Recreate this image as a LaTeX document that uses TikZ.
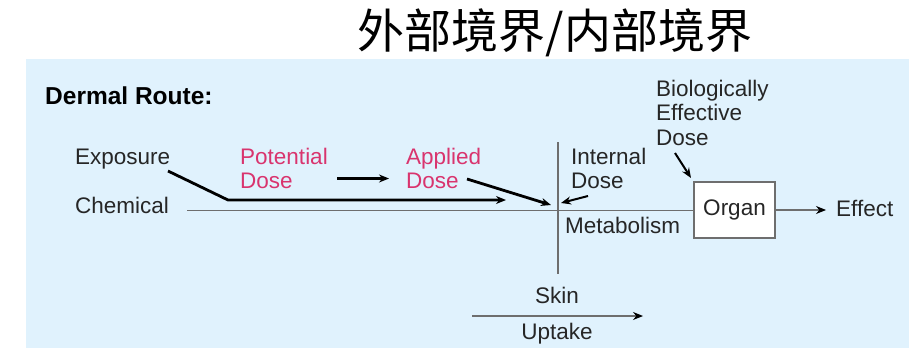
\documentclass[tikz,border=0pt]{standalone}
\usepackage{fontspec}
\setmainfont{Liberation Sans}
\newfontfamily\cjk{Noto Sans CJK SC}
\usetikzlibrary{arrows.meta}
\definecolor{panelblue}{HTML}{E0F2FD}
\definecolor{dosepink}{HTML}{D9346E}
\definecolor{linegray}{HTML}{6E6E6E}
\tikzset{
  lbl/.style={inner sep=0pt, anchor=base west, align=left, font=\fontsize{22.5}{24.5}\selectfont, text=black!85},
  pink/.style={lbl, text=dosepink},
  thick arrow/.style={line width=2.8pt, -{Stealth[length=10pt,width=8pt]}},
  thin arrow/.style={line width=1.2pt, linegray, -{Stealth[length=10pt,width=8pt,color=black]}},
}
\begin{document}
\begin{tikzpicture}[x=1pt,y=-1pt]
\useasboundingbox (0,0) rectangle (909,348);
\fill[panelblue] (26,59) rectangle (909,348);
\node[font=\cjk\fontsize{47}{52}\selectfont, inner sep=0pt] (title) at (555,33) {外部境界/内部境界};
\node[lbl, text=black, font=\bfseries\fontsize{24.5}{28}\selectfont] (route) at (45,104) {Dermal Route:};
\node[lbl] (exposure) at (75,164) {Exposure};
\node[lbl] (chemical) at (75,213) {Chemical};
\node[pink] (potential) at (240,188.5) {Potential\\Dose};
\node[pink] (applied) at (406,188.5) {Applied\\Dose};
\node[lbl] (internal) at (571,188.5) {Internal\\Dose};
\node[lbl] (bed) at (656,145) {Biologically\\Effective\\Dose};
\node[lbl] (metab) at (565,233) {Metabolism};
\node[draw=linegray, line width=1.2pt, fill=white, minimum width=81pt, minimum height=56pt, inner sep=0pt, font=\fontsize{22.5}{25}\selectfont, text=black!85] (organ) at (734.5,210) {Organ};
\node[lbl] (effect) at (836,216) {Effect};
\node[lbl, anchor=base] (skin) at (557,303) {Skin};
\node[lbl, anchor=base] (uptake) at (557,339) {Uptake};
% coordinates
\coordinate (chemstart) at (187,210.5);
\coordinate (skintop) at (558,142);
\coordinate (skinbot) at (558,274);
\coordinate (expstart) at (168,171);
\coordinate (expbend) at (228,200);
\coordinate (expend) at (506,200);
\coordinate (potend) at (337,178.5);
\coordinate (append) at (389,178.5);
\coordinate (apstart) at (467,179);
\coordinate (apend) at (551,205);
\coordinate (instart) at (588,196);
\coordinate (inend) at (561,203);
\coordinate (bedstart) at (675,153);
\coordinate (bedend) at (691,178);
\coordinate (effend) at (826,210);
\coordinate (upstart) at (472,316);
\coordinate (upend) at (643,316);
% lines
\draw[linegray, line width=1.2pt] (chemstart) -- (organ.west |- chemstart);
\draw[linegray, line width=1.2pt] (skintop) -- (skinbot);
\draw[thick arrow] (expstart) -- (expbend) -- (expend);
\draw[thick arrow, line width=3pt] (potend) -- (append);
\draw[thick arrow] (apstart) -- (apend);
\draw[thick arrow, line width=2pt] (instart) -- (inend);
\draw[thick arrow, line width=2pt] (bedstart) -- (bedend);
\draw[thin arrow] (organ.east |- effend) -- (effend);
\draw[thin arrow] (upstart) -- (upend);
\end{tikzpicture}
\end{document}
